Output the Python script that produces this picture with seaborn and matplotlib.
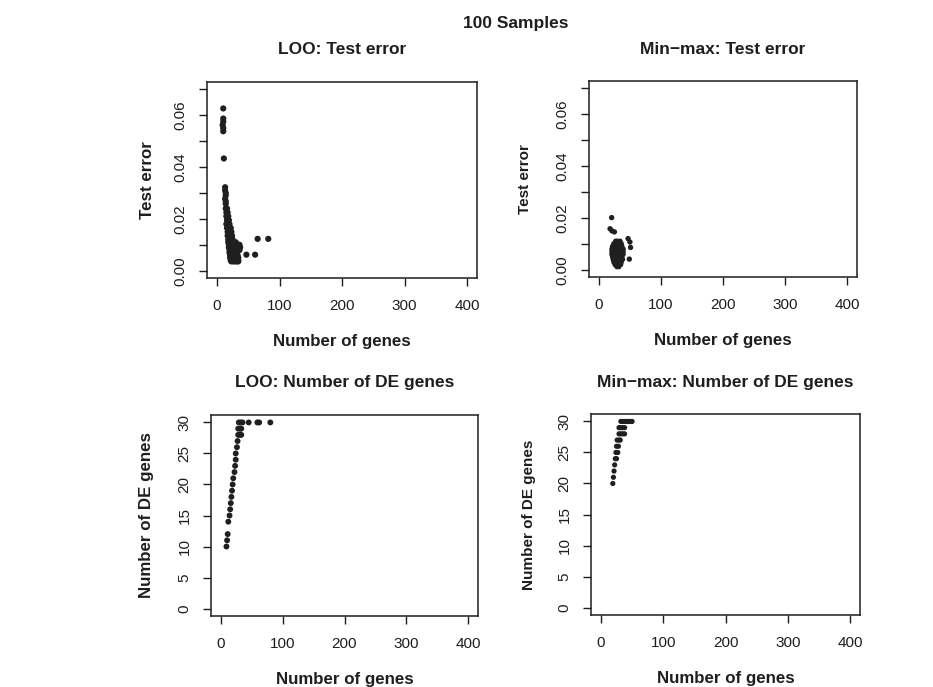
import matplotlib
matplotlib.use("Agg")
import matplotlib.pyplot as plt
import seaborn as sns
import pandas as pd

# ---------------- data ----------------
# LOO: test error vs number of selected genes
loo_err_genes = [10, 10, 10, 9, 10, 10, 11,
                 13, 13, 14, 14, 13, 14, 14,
                 14, 16, 15, 17, 15, 18, 16, 19, 15, 18, 20, 16, 19, 22, 17, 20, 23, 17, 21, 24, 18, 21, 25,
                 18, 22, 26, 30, 19, 23, 27, 31, 36, 19, 22, 25, 28, 33, 37, 20, 23, 26, 29, 33, 36,
                 20, 23, 26, 29, 32, 21, 24, 27, 30, 33, 21, 24, 27, 30, 34, 22, 25, 28, 31, 34, 23, 26, 29, 32, 34,
                 47, 61, 65, 82]
loo_test_err = [0.0626, 0.0587, 0.0575, 0.0562, 0.0550, 0.0538, 0.0433,
                0.0322, 0.0310, 0.0300, 0.0290, 0.0278, 0.0268, 0.0258,
                0.0240, 0.0240, 0.0225, 0.0225, 0.0210, 0.0210, 0.0195, 0.0195, 0.0180, 0.0180, 0.0180,
                0.0165, 0.0165, 0.0165, 0.0150, 0.0150, 0.0150, 0.0135, 0.0135, 0.0135, 0.0120, 0.0120, 0.0120,
                0.0110, 0.0110, 0.0110, 0.0110, 0.0100, 0.0100, 0.0100, 0.0100, 0.0100,
                0.0090, 0.0090, 0.0090, 0.0090, 0.0090, 0.0090, 0.0080, 0.0080, 0.0080, 0.0080, 0.0080, 0.0080,
                0.0070, 0.0070, 0.0070, 0.0070, 0.0070, 0.0060, 0.0060, 0.0060, 0.0060, 0.0060,
                0.0050, 0.0050, 0.0050, 0.0050, 0.0050, 0.0040, 0.0040, 0.0040, 0.0040, 0.0040,
                0.0036, 0.0036, 0.0036, 0.0036, 0.0036,
                0.0062, 0.0062, 0.0123, 0.0123]

# Min-max: test error vs number of selected genes
mm_err_genes = [20.5, 18, 21, 25,
                27, 30, 34,
                24, 27, 30, 33, 36,
                22, 25, 28, 31, 34, 37,
                21, 24, 27, 30, 33, 36, 39,
                21, 24, 27, 30, 33, 36, 39,
                21, 24, 27, 30, 33, 36, 39,
                22, 25, 28, 31, 34, 37,
                23, 26, 29, 32, 35, 38,
                24, 27, 30, 33, 36,
                26, 29, 32, 35,
                29, 32,
                47, 50, 51, 49]
mm_test_err = [0.0201, 0.0158, 0.0150, 0.0146,
               0.0110, 0.0110, 0.0110,
               0.0100, 0.0100, 0.0100, 0.0100, 0.0100,
               0.0090, 0.0090, 0.0090, 0.0090, 0.0090, 0.0090,
               0.0080, 0.0080, 0.0080, 0.0080, 0.0080, 0.0080, 0.0080,
               0.0070, 0.0070, 0.0070, 0.0070, 0.0070, 0.0070, 0.0070,
               0.0060, 0.0060, 0.0060, 0.0060, 0.0060, 0.0060, 0.0060,
               0.0050, 0.0050, 0.0050, 0.0050, 0.0050, 0.0050,
               0.0040, 0.0040, 0.0040, 0.0040, 0.0040, 0.0040,
               0.0030, 0.0030, 0.0030, 0.0030, 0.0030,
               0.0020, 0.0020, 0.0020, 0.0020,
               0.0012, 0.0012,
               0.0120, 0.0107, 0.0086, 0.0041]

# LOO: number of DE genes vs number of selected genes
loo_de_genes = [9, 10, 11, 12, 14, 15, 16, 17, 18, 19, 20, 22, 23, 24, 24, 26, 27,
                28, 31, 33, 28, 31, 33, 29, 32, 35, 45, 59, 62, 80]
loo_de_count = [10, 11, 12, 14, 15, 16, 17, 18, 19, 20, 21, 22, 23, 24, 25, 26, 27,
                28, 28, 28, 29, 29, 29, 30, 30, 30, 30, 30, 30, 30]

# Min-max: number of DE genes vs number of selected genes
mm_de_genes = [19, 20, 21, 22, 23, 25, 24, 27, 25, 28, 26, 29, 31,
               29, 32, 35, 38, 29, 32, 35, 38,
               32, 35, 38, 41, 44, 47, 50]
mm_de_count = [20, 21, 22, 23, 24, 24, 25, 25, 26, 26, 27, 27, 27,
               28, 28, 28, 28, 29, 29, 29, 29,
               30, 30, 30, 30, 30, 30, 30]

x_ticks = [0, 100, 200, 300, 400]
err_ticks = [0.00, 0.01, 0.02, 0.03, 0.04, 0.05, 0.06, 0.07]
err_labels = ["0.00", "", "0.02", "", "0.04", "", "0.06", ""]
de_ticks = [0, 5, 10, 15, 20, 25, 30]

suptitle = "100 Samples"
titles = ["LOO: Test error", "Min\u2212max: Test error",
          "LOO: Number of DE genes", "Min\u2212max: Number of DE genes"]

# ---------------- style ----------------
sns.set_style("white")
plt.rcParams["font.family"] = ["Liberation Sans", "DejaVu Sans"]
INK = "#1e1e1e"
PT = "#1f1f1f"

W, H = 933, 687
fig = plt.figure(figsize=(W / 100, H / 100), dpi=100)
fig.patch.set_facecolor("white")


def box(l, r, t, b):
    return [l / W, 1 - b / H, (r - l) / W, (b - t) / H]


panels = [
    dict(rect=box(207, 477, 82, 278), x=loo_err_genes, y=loo_test_err, s=20,
         ylim=(0, 0.07), yt=err_ticks, yl=err_labels, ylabel="Test error", ylsize=12.2, ylx=147),
    dict(rect=box(589, 857, 81, 277), x=mm_err_genes, y=mm_test_err, s=15,
         ylim=(0, 0.07), yt=err_ticks, yl=err_labels, ylabel="Test error", ylsize=11, ylx=525),
    dict(rect=box(211, 478, 415, 616), x=loo_de_genes, y=loo_de_count, s=18,
         ylim=(0, 30), yt=de_ticks, yl=[str(v) for v in de_ticks], ylabel="Number of DE genes", ylsize=12.2, ylx=146),
    dict(rect=box(591, 860, 414, 615), x=mm_de_genes, y=mm_de_count, s=14,
         ylim=(0, 30), yt=de_ticks, yl=[str(v) for v in de_ticks], ylabel="Number of DE genes", ylsize=11, ylx=529),
]

for p, title in zip(panels, titles):
    ax = fig.add_axes(p["rect"])
    df = pd.DataFrame({"genes": p["x"], "val": p["y"]})
    sns.scatterplot(data=df, x="genes", y="val", ax=ax, color=PT, s=p["s"],
                    linewidth=0, edgecolor="none", legend=False)
    ax.set_facecolor("white")
    lo, hi = p["ylim"]
    pad = (hi - lo) * 0.04
    ax.set_ylim(lo - pad, hi + pad)
    ax.set_xlim(-16, 416)
    ax.set_xticks(x_ticks)
    ax.set_xticklabels([str(v) for v in x_ticks])
    ax.set_yticks(p["yt"])
    ax.set_yticklabels(p["yl"], rotation=90, va="center")
    for sp in ax.spines.values():
        sp.set_visible(True)
        sp.set_color(INK)
        sp.set_linewidth(1.1)
    ax.tick_params(axis="both", which="both", bottom=True, left=True, direction="out",
                   length=6, width=1.0, color=INK, labelcolor=INK)
    ax.tick_params(axis="x", labelsize=11, pad=9)
    ax.tick_params(axis="y", labelsize=11, pad=8)
    l, b, w, h = p["rect"]
    hpx = h * H
    wpx = w * W
    ax.set_xlabel("Number of genes", fontsize=12.2, fontweight="bold", color=INK, va="center")
    ax.xaxis.set_label_coords(0.5, -63.5 / hpx)
    ax.set_ylabel(p["ylabel"], fontsize=p["ylsize"], fontweight="bold", color=INK, va="center")
    ax.yaxis.set_label_coords((p["ylx"] - l * W) / wpx, 0.5)
    ax.set_title(title, fontsize=12.5, fontweight="bold", color=INK, y=1 + 32 / hpx, va="center", pad=0)

fig.suptitle(suptitle, x=516 / W, y=1 - 23.5 / H, va="center", fontsize=12.5, fontweight="bold", color=INK)

fig.savefig("out.png", dpi=100, facecolor="white")
